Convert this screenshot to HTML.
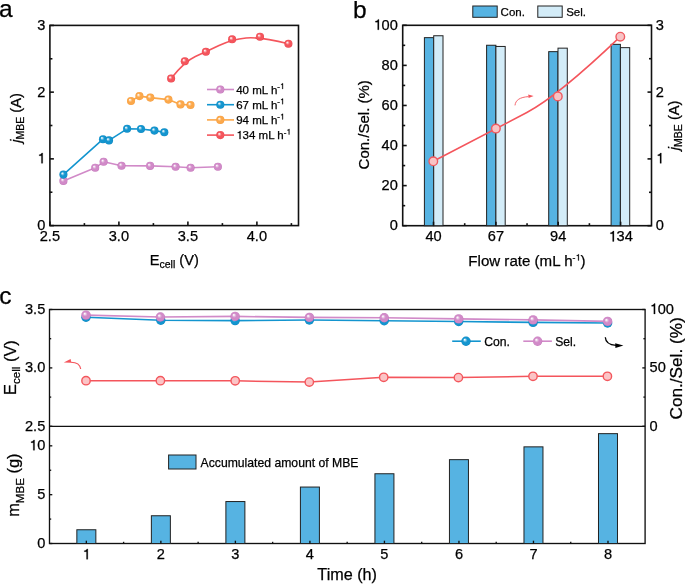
<!DOCTYPE html>
<html><head><meta charset="utf-8"><style>
html,body{margin:0;padding:0;background:#fff;}
body{width:685px;height:584px;overflow:hidden;}
svg{display:block;font-family:"Liberation Sans", sans-serif;will-change:transform;} text{stroke:#000;stroke-width:0.25px;}
</style></head><body>
<svg width="685" height="584" viewBox="0 0 685 584">
<defs><radialGradient id="gP" cx="0.5" cy="0.5" r="0.5" fx="0.34" fy="0.32">
<stop offset="0" stop-color="#ffffff"/><stop offset="0.14" stop-color="#f6e8f4"/><stop offset="0.3" stop-color="#e1b3db"/><stop offset="0.5" stop-color="#d18ac8"/>
<stop offset="0.85" stop-color="#d18ac8"/><stop offset="1" stop-color="#c273b8"/></radialGradient><radialGradient id="gB" cx="0.5" cy="0.5" r="0.5" fx="0.34" fy="0.32">
<stop offset="0" stop-color="#ffffff"/><stop offset="0.14" stop-color="#d0eaf5"/><stop offset="0.3" stop-color="#66bae0"/><stop offset="0.5" stop-color="#1395cf"/>
<stop offset="0.85" stop-color="#1395cf"/><stop offset="1" stop-color="#0b84bd"/></radialGradient><radialGradient id="gO" cx="0.5" cy="0.5" r="0.5" fx="0.34" fy="0.32">
<stop offset="0" stop-color="#ffffff"/><stop offset="0.14" stop-color="#feeedb"/><stop offset="0.3" stop-color="#fdc689"/><stop offset="0.5" stop-color="#fca84a"/>
<stop offset="0.85" stop-color="#fca84a"/><stop offset="1" stop-color="#f39a3c"/></radialGradient><radialGradient id="gR" cx="0.5" cy="0.5" r="0.5" fx="0.34" fy="0.32">
<stop offset="0" stop-color="#ffffff"/><stop offset="0.14" stop-color="#fdddde"/><stop offset="0.3" stop-color="#f89095"/><stop offset="0.5" stop-color="#f4555c"/>
<stop offset="0.85" stop-color="#f4555c"/><stop offset="1" stop-color="#e8404a"/></radialGradient></defs>
<text x="-0.90" y="17.20" font-size="24.5" text-anchor="start" fill="#000" >a</text>
<rect x="49.9" y="25.4" width="248.6" height="200.2" fill="none" stroke="#111" stroke-width="1.6"/>
<line x1="49.90" y1="225.60" x2="49.90" y2="221.60" stroke="#111" stroke-width="1.6" />
<text x="49.90" y="241.40" font-size="14.6" text-anchor="middle" fill="#000" >2.5</text>
<line x1="118.90" y1="225.60" x2="118.90" y2="221.60" stroke="#111" stroke-width="1.6" />
<text x="118.90" y="241.40" font-size="14.6" text-anchor="middle" fill="#000" >3.0</text>
<line x1="187.90" y1="225.60" x2="187.90" y2="221.60" stroke="#111" stroke-width="1.6" />
<text x="187.90" y="241.40" font-size="14.6" text-anchor="middle" fill="#000" >3.5</text>
<line x1="256.90" y1="225.60" x2="256.90" y2="221.60" stroke="#111" stroke-width="1.6" />
<text x="256.90" y="241.40" font-size="14.6" text-anchor="middle" fill="#000" >4.0</text>
<line x1="84.40" y1="225.60" x2="84.40" y2="223.10" stroke="#111" stroke-width="1.6" />
<line x1="153.40" y1="225.60" x2="153.40" y2="223.10" stroke="#111" stroke-width="1.6" />
<line x1="222.40" y1="225.60" x2="222.40" y2="223.10" stroke="#111" stroke-width="1.6" />
<line x1="291.40" y1="225.60" x2="291.40" y2="223.10" stroke="#111" stroke-width="1.6" />
<line x1="49.90" y1="225.60" x2="53.90" y2="225.60" stroke="#111" stroke-width="1.6" />
<text x="37.18" y="230.05" font-size="14.6" >0</text>
<line x1="49.90" y1="158.87" x2="53.90" y2="158.87" stroke="#111" stroke-width="1.6" />
<text x="37.18" y="163.32" font-size="14.6" > </text>
<line x1="49.90" y1="92.14" x2="53.90" y2="92.14" stroke="#111" stroke-width="1.6" />
<text x="37.18" y="96.59" font-size="14.6" >2</text>
<line x1="49.90" y1="25.41" x2="53.90" y2="25.41" stroke="#111" stroke-width="1.6" />
<text x="37.18" y="29.86" font-size="14.6" >3</text>
<line x1="49.90" y1="192.23" x2="52.40" y2="192.23" stroke="#111" stroke-width="1.6" />
<line x1="49.90" y1="125.50" x2="52.40" y2="125.50" stroke="#111" stroke-width="1.6" />
<line x1="49.90" y1="58.77" x2="52.40" y2="58.77" stroke="#111" stroke-width="1.6" />
<text x="174.3" y="264.9" font-size="14.6" text-anchor="middle">E<tspan font-size="10.5" dy="3.5">cell</tspan><tspan dy="-3.5"> (V)</tspan></text>
<text transform="translate(21.0,118.0) rotate(-90)" font-size="14.6" text-anchor="middle"><tspan font-style="italic">j</tspan><tspan font-size="10.5" dy="3.4">MBE</tspan><tspan dy="-3.4"> (A)</tspan></text>
<polyline points="63.40,180.90 95.20,167.80 103.60,161.80 121.50,165.70 150.10,165.90 175.60,166.80 190.60,167.80 217.90,166.80" fill="none" stroke="#d18ac8" stroke-width="1.6" stroke-linejoin="round"/>
<circle cx="63.40" cy="180.90" r="4.05" fill="url(#gP)"/>
<circle cx="95.20" cy="167.80" r="4.05" fill="url(#gP)"/>
<circle cx="103.60" cy="161.80" r="4.05" fill="url(#gP)"/>
<circle cx="121.50" cy="165.70" r="4.05" fill="url(#gP)"/>
<circle cx="150.10" cy="165.90" r="4.05" fill="url(#gP)"/>
<circle cx="175.60" cy="166.80" r="4.05" fill="url(#gP)"/>
<circle cx="190.60" cy="167.80" r="4.05" fill="url(#gP)"/>
<circle cx="217.90" cy="166.80" r="4.05" fill="url(#gP)"/>
<polyline points="63.40,174.60 103.00,139.20 109.00,140.40 127.10,128.80 141.00,129.00 154.40,130.60 164.30,132.30" fill="none" stroke="#1395cf" stroke-width="1.6" stroke-linejoin="round"/>
<circle cx="63.40" cy="174.60" r="4.05" fill="url(#gB)"/>
<circle cx="103.00" cy="139.20" r="4.05" fill="url(#gB)"/>
<circle cx="109.00" cy="140.40" r="4.05" fill="url(#gB)"/>
<circle cx="127.10" cy="128.80" r="4.05" fill="url(#gB)"/>
<circle cx="141.00" cy="129.00" r="4.05" fill="url(#gB)"/>
<circle cx="154.40" cy="130.60" r="4.05" fill="url(#gB)"/>
<circle cx="164.30" cy="132.30" r="4.05" fill="url(#gB)"/>
<polyline points="131.00,101.00 139.40,96.10 150.30,97.60 168.40,99.60 180.50,104.40 190.50,105.00" fill="none" stroke="#fca84a" stroke-width="1.6" stroke-linejoin="round"/>
<circle cx="131.00" cy="101.00" r="4.05" fill="url(#gO)"/>
<circle cx="139.40" cy="96.10" r="4.05" fill="url(#gO)"/>
<circle cx="150.30" cy="97.60" r="4.05" fill="url(#gO)"/>
<circle cx="168.40" cy="99.60" r="4.05" fill="url(#gO)"/>
<circle cx="180.50" cy="104.40" r="4.05" fill="url(#gO)"/>
<circle cx="190.50" cy="105.00" r="4.05" fill="url(#gO)"/>
<path d="M171.10,78.50 Q184.80,61.30 195.35,56.55 Q205.90,51.80 219.00,45.55 Q232.10,39.30 246.05,38.00 Q260.00,36.70 288.40,43.70" fill="none" stroke="#f4555c" stroke-width="1.6"/>
<circle cx="171.10" cy="78.50" r="4.05" fill="url(#gR)"/>
<circle cx="184.80" cy="61.30" r="4.05" fill="url(#gR)"/>
<circle cx="205.90" cy="51.80" r="4.05" fill="url(#gR)"/>
<circle cx="232.10" cy="39.30" r="4.05" fill="url(#gR)"/>
<circle cx="260.00" cy="36.70" r="4.05" fill="url(#gR)"/>
<circle cx="288.40" cy="43.70" r="4.05" fill="url(#gR)"/>
<line x1="207.00" y1="89.50" x2="234.00" y2="89.50" stroke="#d18ac8" stroke-width="1.6" />
<circle cx="220.30" cy="89.50" r="4.05" fill="url(#gP)"/>
<text x="236.2" y="93.50" font-size="11.5">40 mL h<tspan font-size="8" dy="-4.5">- </tspan></text>
<line x1="207.00" y1="104.70" x2="234.00" y2="104.70" stroke="#1395cf" stroke-width="1.6" />
<circle cx="220.30" cy="104.70" r="4.05" fill="url(#gB)"/>
<text x="236.2" y="108.70" font-size="11.5">67 mL h<tspan font-size="8" dy="-4.5">- </tspan></text>
<line x1="207.00" y1="119.90" x2="234.00" y2="119.90" stroke="#fca84a" stroke-width="1.6" />
<circle cx="220.30" cy="119.90" r="4.05" fill="url(#gO)"/>
<text x="236.2" y="123.90" font-size="11.5">94 mL h<tspan font-size="8" dy="-4.5">- </tspan></text>
<line x1="207.00" y1="135.10" x2="234.00" y2="135.10" stroke="#f4555c" stroke-width="1.6" />
<circle cx="220.30" cy="135.10" r="4.05" fill="url(#gR)"/>
<text x="236.2" y="139.10" font-size="11.5"> 34 mL h<tspan font-size="8" dy="-4.5">- </tspan></text>
<text x="353.00" y="17.60" font-size="24.5" text-anchor="start" fill="#000" >b</text>
<rect x="402.7" y="25.3" width="248.8" height="200.39999999999998" fill="none" stroke="#111" stroke-width="1.6"/>
<rect x="424.40" y="37.65" width="9.3" height="188.05" fill="#56b3e2" stroke="#222" stroke-width="1"/>
<rect x="433.70" y="35.75" width="9.3" height="189.95" fill="#d3ecf8" stroke="#222" stroke-width="1"/>
<rect x="486.60" y="45.25" width="9.3" height="180.45" fill="#56b3e2" stroke="#222" stroke-width="1"/>
<rect x="495.90" y="46.45" width="9.3" height="179.25" fill="#d3ecf8" stroke="#222" stroke-width="1"/>
<rect x="548.70" y="51.65" width="9.3" height="174.05" fill="#56b3e2" stroke="#222" stroke-width="1"/>
<rect x="558.00" y="48.15" width="9.3" height="177.55" fill="#d3ecf8" stroke="#222" stroke-width="1"/>
<rect x="611.10" y="44.35" width="9.3" height="181.35" fill="#56b3e2" stroke="#222" stroke-width="1"/>
<rect x="620.40" y="47.65" width="9.3" height="178.05" fill="#d3ecf8" stroke="#222" stroke-width="1"/>
<line x1="433.50" y1="225.70" x2="433.50" y2="221.70" stroke="#111" stroke-width="1.6" />
<text x="425.38" y="241.40" font-size="14.6" >40</text>
<line x1="495.90" y1="225.70" x2="495.90" y2="221.70" stroke="#111" stroke-width="1.6" />
<text x="487.78" y="241.40" font-size="14.6" >67</text>
<line x1="558.20" y1="225.70" x2="558.20" y2="221.70" stroke="#111" stroke-width="1.6" />
<text x="550.08" y="241.40" font-size="14.6" >94</text>
<line x1="620.60" y1="225.70" x2="620.60" y2="221.70" stroke="#111" stroke-width="1.6" />
<text x="608.42" y="241.40" font-size="14.6" > 34</text>
<line x1="464.70" y1="225.70" x2="464.70" y2="223.20" stroke="#111" stroke-width="1.6" />
<line x1="527.05" y1="225.70" x2="527.05" y2="223.20" stroke="#111" stroke-width="1.6" />
<line x1="589.40" y1="225.70" x2="589.40" y2="223.20" stroke="#111" stroke-width="1.6" />
<line x1="402.70" y1="225.70" x2="406.70" y2="225.70" stroke="#111" stroke-width="1.6" />
<text x="389.68" y="230.15" font-size="14.6" >0</text>
<line x1="402.70" y1="185.62" x2="406.70" y2="185.62" stroke="#111" stroke-width="1.6" />
<text x="381.56" y="190.07" font-size="14.6" >20</text>
<line x1="402.70" y1="145.54" x2="406.70" y2="145.54" stroke="#111" stroke-width="1.6" />
<text x="381.56" y="149.99" font-size="14.6" >40</text>
<line x1="402.70" y1="105.46" x2="406.70" y2="105.46" stroke="#111" stroke-width="1.6" />
<text x="381.56" y="109.91" font-size="14.6" >60</text>
<line x1="402.70" y1="65.38" x2="406.70" y2="65.38" stroke="#111" stroke-width="1.6" />
<text x="381.56" y="69.83" font-size="14.6" >80</text>
<line x1="402.70" y1="25.30" x2="406.70" y2="25.30" stroke="#111" stroke-width="1.6" />
<text x="373.44" y="29.75" font-size="14.6" > 00</text>
<line x1="402.70" y1="205.66" x2="405.20" y2="205.66" stroke="#111" stroke-width="1.6" />
<line x1="402.70" y1="165.58" x2="405.20" y2="165.58" stroke="#111" stroke-width="1.6" />
<line x1="402.70" y1="125.50" x2="405.20" y2="125.50" stroke="#111" stroke-width="1.6" />
<line x1="402.70" y1="85.42" x2="405.20" y2="85.42" stroke="#111" stroke-width="1.6" />
<line x1="402.70" y1="45.34" x2="405.20" y2="45.34" stroke="#111" stroke-width="1.6" />
<line x1="651.50" y1="225.70" x2="647.50" y2="225.70" stroke="#111" stroke-width="1.6" />
<text x="655.80" y="230.15" font-size="14.6" >0</text>
<line x1="651.50" y1="158.90" x2="647.50" y2="158.90" stroke="#111" stroke-width="1.6" />
<text x="655.80" y="163.35" font-size="14.6" > </text>
<line x1="651.50" y1="92.10" x2="647.50" y2="92.10" stroke="#111" stroke-width="1.6" />
<text x="655.80" y="96.55" font-size="14.6" >2</text>
<line x1="651.50" y1="25.30" x2="647.50" y2="25.30" stroke="#111" stroke-width="1.6" />
<text x="655.80" y="29.75" font-size="14.6" >3</text>
<line x1="651.50" y1="192.30" x2="649.00" y2="192.30" stroke="#111" stroke-width="1.6" />
<line x1="651.50" y1="125.50" x2="649.00" y2="125.50" stroke="#111" stroke-width="1.6" />
<line x1="651.50" y1="58.70" x2="649.00" y2="58.70" stroke="#111" stroke-width="1.6" />
<path d="M433.30,161.30 Q495.90,128.60 526.85,112.50 Q557.80,96.40 620.30,36.70" fill="none" stroke="#f4555c" stroke-width="1.6"/>
<circle cx="433.30" cy="161.30" r="4.3" fill="#f8c3c5" stroke="#ef5a60" stroke-width="1.4"/>
<circle cx="495.90" cy="128.60" r="4.3" fill="#f8c3c5" stroke="#ef5a60" stroke-width="1.4"/>
<circle cx="557.80" cy="96.40" r="4.3" fill="#f8c3c5" stroke="#ef5a60" stroke-width="1.4"/>
<circle cx="620.30" cy="36.70" r="4.3" fill="#f8c3c5" stroke="#ef5a60" stroke-width="1.4"/>
<path d="M515,105.4 C515.5,100 520,97.2 528.5,96.6" fill="none" stroke="#f4555c" stroke-width="0.9"/>
<path d="M533.6,96.1 L528.2,94.6 L528.6,98.0 Z" fill="#f4555c"/>
<text x="526.9" y="266.1" font-size="15.1" text-anchor="middle">Flow rate (mL h<tspan font-size="8.8" dy="-5.6">- </tspan><tspan dy="5.6">)</tspan></text>
<text transform="translate(369,124.8) rotate(-90)" font-size="15" text-anchor="middle">Con./Sel. (%)</text>
<text transform="translate(679,125.4) rotate(-90)" font-size="14.6" text-anchor="middle"><tspan font-style="italic">j</tspan><tspan font-size="10.5" dy="3.4">MBE</tspan><tspan dy="-3.4"> (A)</tspan></text>
<rect x="472.8" y="6" width="24.4" height="11.3" fill="#56b3e2" stroke="#222" stroke-width="1"/>
<text x="500.60" y="15.80" font-size="11.5" text-anchor="start" fill="#000" >Con.</text>
<rect x="537.8" y="6" width="24.4" height="11.3" fill="#d3ecf8" stroke="#222" stroke-width="1"/>
<text x="566.20" y="15.80" font-size="11.5" text-anchor="start" fill="#000" >Sel.</text>
<text x="-0.80" y="303.50" font-size="24.5" text-anchor="start" fill="#000" >c</text>
<rect x="49.5" y="309.5" width="595.6" height="234.0" fill="none" stroke="#111" stroke-width="1.35"/>
<line x1="49.50" y1="426.30" x2="645.10" y2="426.30" stroke="#111" stroke-width="1.35" />
<rect x="76.85" y="529.75" width="19" height="13.75" fill="#56b3e2" stroke="#222" stroke-width="1"/>
<rect x="151.37" y="515.75" width="19" height="27.75" fill="#56b3e2" stroke="#222" stroke-width="1"/>
<rect x="225.89" y="501.55" width="19" height="41.95" fill="#56b3e2" stroke="#222" stroke-width="1"/>
<rect x="300.41" y="487.05" width="19" height="56.45" fill="#56b3e2" stroke="#222" stroke-width="1"/>
<rect x="374.93" y="473.75" width="19" height="69.75" fill="#56b3e2" stroke="#222" stroke-width="1"/>
<rect x="449.45" y="459.65" width="19" height="83.85" fill="#56b3e2" stroke="#222" stroke-width="1"/>
<rect x="523.97" y="446.85" width="19" height="96.65" fill="#56b3e2" stroke="#222" stroke-width="1"/>
<rect x="598.49" y="433.65" width="19" height="109.85" fill="#56b3e2" stroke="#222" stroke-width="1"/>
<line x1="86.35" y1="543.50" x2="86.35" y2="540.70" stroke="#111" stroke-width="1.35" />
<text x="82.29" y="559.30" font-size="14.6" > </text>
<line x1="123.61" y1="543.50" x2="123.61" y2="541.80" stroke="#111" stroke-width="1.35" />
<line x1="160.87" y1="543.50" x2="160.87" y2="540.70" stroke="#111" stroke-width="1.35" />
<text x="156.81" y="559.30" font-size="14.6" >2</text>
<line x1="198.13" y1="543.50" x2="198.13" y2="541.80" stroke="#111" stroke-width="1.35" />
<line x1="235.39" y1="543.50" x2="235.39" y2="540.70" stroke="#111" stroke-width="1.35" />
<text x="231.33" y="559.30" font-size="14.6" >3</text>
<line x1="272.65" y1="543.50" x2="272.65" y2="541.80" stroke="#111" stroke-width="1.35" />
<line x1="309.91" y1="543.50" x2="309.91" y2="540.70" stroke="#111" stroke-width="1.35" />
<text x="305.85" y="559.30" font-size="14.6" >4</text>
<line x1="347.17" y1="543.50" x2="347.17" y2="541.80" stroke="#111" stroke-width="1.35" />
<line x1="384.43" y1="543.50" x2="384.43" y2="540.70" stroke="#111" stroke-width="1.35" />
<text x="380.37" y="559.30" font-size="14.6" >5</text>
<line x1="421.69" y1="543.50" x2="421.69" y2="541.80" stroke="#111" stroke-width="1.35" />
<line x1="458.95" y1="543.50" x2="458.95" y2="540.70" stroke="#111" stroke-width="1.35" />
<text x="454.89" y="559.30" font-size="14.6" >6</text>
<line x1="496.21" y1="543.50" x2="496.21" y2="541.80" stroke="#111" stroke-width="1.35" />
<line x1="533.47" y1="543.50" x2="533.47" y2="540.70" stroke="#111" stroke-width="1.35" />
<text x="529.41" y="559.30" font-size="14.6" >7</text>
<line x1="570.73" y1="543.50" x2="570.73" y2="541.80" stroke="#111" stroke-width="1.35" />
<line x1="607.99" y1="543.50" x2="607.99" y2="540.70" stroke="#111" stroke-width="1.35" />
<text x="603.93" y="559.30" font-size="14.6" >8</text>
<line x1="49.50" y1="426.30" x2="52.30" y2="426.30" stroke="#111" stroke-width="1.35" />
<text x="45.30" y="430.75" font-size="14.6" text-anchor="end" fill="#000" >2.5</text>
<line x1="49.50" y1="367.90" x2="52.30" y2="367.90" stroke="#111" stroke-width="1.35" />
<text x="45.30" y="372.35" font-size="14.6" text-anchor="end" fill="#000" >3.0</text>
<line x1="49.50" y1="309.50" x2="52.30" y2="309.50" stroke="#111" stroke-width="1.35" />
<text x="45.30" y="313.95" font-size="14.6" text-anchor="end" fill="#000" >3.5</text>
<line x1="49.50" y1="397.10" x2="51.20" y2="397.10" stroke="#111" stroke-width="1.35" />
<line x1="49.50" y1="338.70" x2="51.20" y2="338.70" stroke="#111" stroke-width="1.35" />
<line x1="645.10" y1="426.30" x2="642.30" y2="426.30" stroke="#111" stroke-width="1.35" />
<text x="649.60" y="430.75" font-size="14.6" >0</text>
<line x1="645.10" y1="367.90" x2="642.30" y2="367.90" stroke="#111" stroke-width="1.35" />
<text x="649.60" y="372.35" font-size="14.6" >50</text>
<line x1="645.10" y1="309.50" x2="642.30" y2="309.50" stroke="#111" stroke-width="1.35" />
<text x="649.60" y="313.95" font-size="14.6" > 00</text>
<line x1="645.10" y1="397.10" x2="643.40" y2="397.10" stroke="#111" stroke-width="1.35" />
<line x1="645.10" y1="338.70" x2="643.40" y2="338.70" stroke="#111" stroke-width="1.35" />
<line x1="49.50" y1="543.50" x2="52.30" y2="543.50" stroke="#111" stroke-width="1.35" />
<text x="37.18" y="547.95" font-size="14.6" >0</text>
<line x1="49.50" y1="494.67" x2="52.30" y2="494.67" stroke="#111" stroke-width="1.35" />
<text x="37.18" y="499.12" font-size="14.6" >5</text>
<line x1="49.50" y1="445.83" x2="52.30" y2="445.83" stroke="#111" stroke-width="1.35" />
<text x="29.06" y="450.28" font-size="14.6" > 0</text>
<line x1="49.50" y1="519.08" x2="51.20" y2="519.08" stroke="#111" stroke-width="1.35" />
<line x1="49.50" y1="470.25" x2="51.20" y2="470.25" stroke="#111" stroke-width="1.35" />
<polyline points="86.00,317.30 160.80,320.30 235.10,320.60 309.40,320.00 384.20,320.80 458.70,321.50 533.10,322.40 607.60,323.00" fill="none" stroke="#1395cf" stroke-width="1.6" stroke-linejoin="round"/>
<circle cx="86.00" cy="317.30" r="4.7" fill="url(#gB)"/>
<circle cx="160.80" cy="320.30" r="4.7" fill="url(#gB)"/>
<circle cx="235.10" cy="320.60" r="4.7" fill="url(#gB)"/>
<circle cx="309.40" cy="320.00" r="4.7" fill="url(#gB)"/>
<circle cx="384.20" cy="320.80" r="4.7" fill="url(#gB)"/>
<circle cx="458.70" cy="321.50" r="4.7" fill="url(#gB)"/>
<circle cx="533.10" cy="322.40" r="4.7" fill="url(#gB)"/>
<circle cx="607.60" cy="323.00" r="4.7" fill="url(#gB)"/>
<polyline points="86.00,315.10 160.40,317.00 235.10,316.40 309.40,317.40 384.20,317.80 458.70,318.90 533.10,319.90 607.60,321.40" fill="none" stroke="#d18ac8" stroke-width="1.6" stroke-linejoin="round"/>
<circle cx="86.00" cy="315.10" r="4.7" fill="url(#gP)"/>
<circle cx="160.40" cy="317.00" r="4.7" fill="url(#gP)"/>
<circle cx="235.10" cy="316.40" r="4.7" fill="url(#gP)"/>
<circle cx="309.40" cy="317.40" r="4.7" fill="url(#gP)"/>
<circle cx="384.20" cy="317.80" r="4.7" fill="url(#gP)"/>
<circle cx="458.70" cy="318.90" r="4.7" fill="url(#gP)"/>
<circle cx="533.10" cy="319.90" r="4.7" fill="url(#gP)"/>
<circle cx="607.60" cy="321.40" r="4.7" fill="url(#gP)"/>
<polyline points="86.00,380.70 160.40,380.70 235.20,380.80 309.30,382.10 383.70,377.30 458.40,377.60 533.00,376.30 607.40,376.30" fill="none" stroke="#f4555c" stroke-width="1.5" stroke-linejoin="round"/>
<circle cx="86.00" cy="380.70" r="4.2" fill="#fbc4c6" stroke="#f3575d" stroke-width="1.4"/>
<circle cx="160.40" cy="380.70" r="4.2" fill="#fbc4c6" stroke="#f3575d" stroke-width="1.4"/>
<circle cx="235.20" cy="380.80" r="4.2" fill="#fbc4c6" stroke="#f3575d" stroke-width="1.4"/>
<circle cx="309.30" cy="382.10" r="4.2" fill="#fbc4c6" stroke="#f3575d" stroke-width="1.4"/>
<circle cx="383.70" cy="377.30" r="4.2" fill="#fbc4c6" stroke="#f3575d" stroke-width="1.4"/>
<circle cx="458.40" cy="377.60" r="4.2" fill="#fbc4c6" stroke="#f3575d" stroke-width="1.4"/>
<circle cx="533.00" cy="376.30" r="4.2" fill="#fbc4c6" stroke="#f3575d" stroke-width="1.4"/>
<circle cx="607.40" cy="376.30" r="4.2" fill="#fbc4c6" stroke="#f3575d" stroke-width="1.4"/>
<line x1="452.20" y1="341.20" x2="480.80" y2="341.20" stroke="#1395cf" stroke-width="1.6" />
<circle cx="466.00" cy="341.20" r="4.7" fill="url(#gB)"/>
<text x="484.20" y="345.90" font-size="12.2" text-anchor="start" fill="#000" >Con.</text>
<line x1="523.30" y1="341.20" x2="551.90" y2="341.20" stroke="#d18ac8" stroke-width="1.6" />
<circle cx="537.60" cy="341.20" r="4.7" fill="url(#gP)"/>
<text x="555.20" y="345.90" font-size="12.2" text-anchor="start" fill="#000" >Sel.</text>
<rect x="168.6" y="455" width="27.4" height="14" fill="#56b3e2" stroke="#222" stroke-width="1"/>
<text x="200.60" y="466.90" font-size="12.2" text-anchor="start" fill="#000" >Accumulated amount of MBE</text>
<path d="M80.7,369 C80,364.5 76.5,362.2 71,362.2" fill="none" stroke="#f4555c" stroke-width="1.15"/>
<path d="M63.8,362.4 L70.6,359.0 L71.4,362.8 Z" fill="#f4555c"/>
<path d="M605.3,337.2 C605.6,342 609,344.9 616,345.4" fill="none" stroke="#000" stroke-width="1.3"/>
<path d="M623.4,345.5 L615.2,343.2 L615.4,347.9 Z" fill="#000"/>
<text x="347.2" y="579.7" font-size="16.2" text-anchor="middle">Time (h)</text>
<text transform="translate(16.4,367.6) rotate(-90)" font-size="16.4" text-anchor="middle">E<tspan font-size="11.6" dy="4">cell</tspan><tspan dy="-4"> (V)</tspan></text>
<text transform="translate(19.2,485.1) rotate(-90)" font-size="16.4" text-anchor="middle">m<tspan font-size="11.6" dy="5.2">MBE</tspan><tspan dy="-5.2"> (g)</tspan></text>
<text transform="translate(682.2,368.4) rotate(-90)" font-size="17.2" text-anchor="middle">Con./Sel. (%)</text>
<path d="M378 0L378 709L312 709C298 652 252 604 136 592L136 522L289 522L289 0Z" transform="translate(37.18,163.32) scale(0.01460,-0.01460)" stroke="#000" stroke-width="0.25" vector-effect="non-scaling-stroke"/>
<path d="M378 0L378 709L312 709C298 652 252 604 136 592L136 522L289 522L289 0Z" transform="translate(280.00,89.00) scale(0.00800,-0.00800)" stroke="#000" stroke-width="0.25" vector-effect="non-scaling-stroke"/>
<path d="M378 0L378 709L312 709C298 652 252 604 136 592L136 522L289 522L289 0Z" transform="translate(280.00,104.20) scale(0.00800,-0.00800)" stroke="#000" stroke-width="0.25" vector-effect="non-scaling-stroke"/>
<path d="M378 0L378 709L312 709C298 652 252 604 136 592L136 522L289 522L289 0Z" transform="translate(280.00,119.40) scale(0.00800,-0.00800)" stroke="#000" stroke-width="0.25" vector-effect="non-scaling-stroke"/>
<path d="M378 0L378 709L312 709C298 652 252 604 136 592L136 522L289 522L289 0Z" transform="translate(236.20,139.10) scale(0.01150,-0.01150)" stroke="#000" stroke-width="0.25" vector-effect="non-scaling-stroke"/>
<path d="M378 0L378 709L312 709C298 652 252 604 136 592L136 522L289 522L289 0Z" transform="translate(286.39,134.60) scale(0.00800,-0.00800)" stroke="#000" stroke-width="0.25" vector-effect="non-scaling-stroke"/>
<path d="M378 0L378 709L312 709C298 652 252 604 136 592L136 522L289 522L289 0Z" transform="translate(608.42,241.40) scale(0.01460,-0.01460)" stroke="#000" stroke-width="0.25" vector-effect="non-scaling-stroke"/>
<path d="M378 0L378 709L312 709C298 652 252 604 136 592L136 522L289 522L289 0Z" transform="translate(373.44,29.75) scale(0.01460,-0.01460)" stroke="#000" stroke-width="0.25" vector-effect="non-scaling-stroke"/>
<path d="M378 0L378 709L312 709C298 652 252 604 136 592L136 522L289 522L289 0Z" transform="translate(655.80,163.35) scale(0.01460,-0.01460)" stroke="#000" stroke-width="0.25" vector-effect="non-scaling-stroke"/>
<path d="M378 0L378 709L312 709C298 652 252 604 136 592L136 522L289 522L289 0Z" transform="translate(575.54,260.50) scale(0.00880,-0.00880)" stroke="#000" stroke-width="0.25" vector-effect="non-scaling-stroke"/>
<path d="M378 0L378 709L312 709C298 652 252 604 136 592L136 522L289 522L289 0Z" transform="translate(82.29,559.30) scale(0.01460,-0.01460)" stroke="#000" stroke-width="0.25" vector-effect="non-scaling-stroke"/>
<path d="M378 0L378 709L312 709C298 652 252 604 136 592L136 522L289 522L289 0Z" transform="translate(649.60,313.95) scale(0.01460,-0.01460)" stroke="#000" stroke-width="0.25" vector-effect="non-scaling-stroke"/>
<path d="M378 0L378 709L312 709C298 652 252 604 136 592L136 522L289 522L289 0Z" transform="translate(29.06,450.28) scale(0.01460,-0.01460)" stroke="#000" stroke-width="0.25" vector-effect="non-scaling-stroke"/>
</svg>
</body></html>
